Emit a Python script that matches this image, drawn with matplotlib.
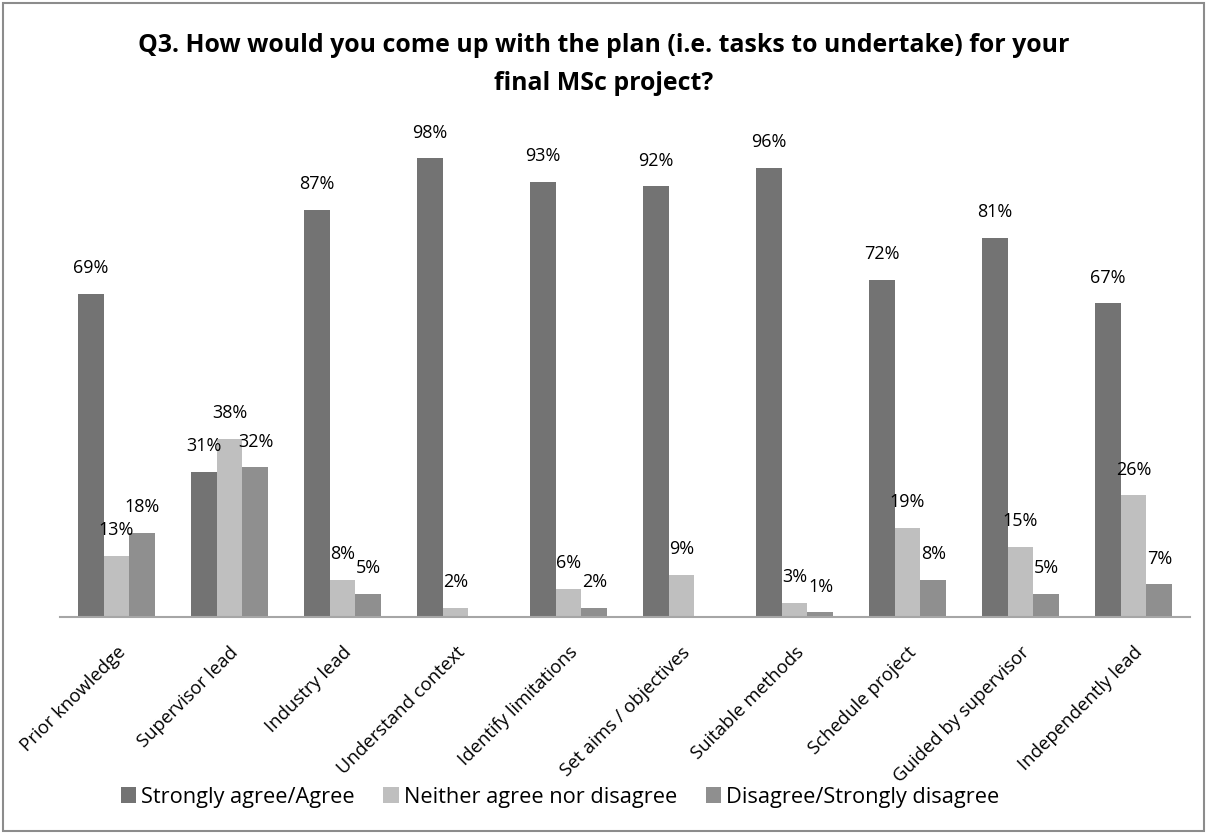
import numpy as np
import matplotlib
matplotlib.use("Agg")
import matplotlib.pyplot as plt
from matplotlib.patches import Rectangle

plt.rcParams['font.family'] = ['Open Sans', 'DejaVu Sans']

categories = ["Prior knowledge", "Supervisor lead", "Industry lead", "Understand context",
              "Identify limitations", "Set aims / objectives", "Suitable methods",
              "Schedule project", "Guided by supervisor", "Independently lead"]
series_names = ["Strongly agree/Agree", "Neither agree nor disagree", "Disagree/Strongly disagree"]
agree = [69, 31, 87, 98, 93, 92, 96, 72, 81, 67]
neutral = [13, 38, 8, 2, 6, 9, 3, 19, 15, 26]
disagree = [18, 32, 5, 0, 2, 0, 1, 8, 5, 7]
colors = ["#737373", "#bfbfbf", "#8f8f8f"]

fig = plt.figure(figsize=(12.07, 8.34), dpi=100)
ax = fig.add_axes([60 / 1207, 1 - 617 / 834, 1130 / 1207, 468 / 834])

x = np.arange(len(categories))
width = 0.23
for i, (vals, col, name) in enumerate(zip([agree, neutral, disagree], colors, series_names)):
    pos = x + (i - 1) * width
    v = np.array(vals) / 100.0
    ax.bar(pos, v, width=width, color=col, label=name, zorder=2)
    for px, val in zip(pos, vals):
        if val > 0:
            ax.annotate(f"{val}%", (px, val / 100.0), xytext=(0, 12), textcoords="offset points",
                        ha="center", va="bottom", fontsize=13, color="#000000")

ax.set_xlim(-0.5, len(categories) - 0.5)
ax.set_ylim(0, 1.0)
ax.set_yticks([])
ax.set_xticks(x)
ax.set_xticklabels(categories, rotation=45, ha="right", rotation_mode="anchor", fontsize=13.3)
ax.tick_params(axis="x", length=0, pad=19)
for s in ["top", "right", "left"]:
    ax.spines[s].set_visible(False)
ax.spines["bottom"].set_color("#a6a6a6")
ax.spines["bottom"].set_linewidth(1.5)

fig.text(0.5, 1 - 46 / 834, "Q3. How would you come up with the plan (i.e. tasks to undertake) for your",
         ha="center", va="center", fontsize=17.9, fontweight="bold")
fig.text(0.5, 1 - 84 / 834, "final MSc project?",
         ha="center", va="center", fontsize=17.9, fontweight="bold")

handles, labels = ax.get_legend_handles_labels()
fig.legend(handles, labels, loc="center", bbox_to_anchor=(0.464, 1 - 797 / 834), ncol=3,
           frameon=False, fontsize=15.7, handlelength=0.7, handleheight=0.7,
           handletextpad=0.25, columnspacing=1.3)

fig.patches.append(Rectangle((3 / 1207, 3 / 834), 1 - 6 / 1207, 1 - 6 / 834,
                             transform=fig.transFigure, fill=False,
                             edgecolor="#8c8c8c", linewidth=1.5))

fig.savefig("out.png", dpi=100)
